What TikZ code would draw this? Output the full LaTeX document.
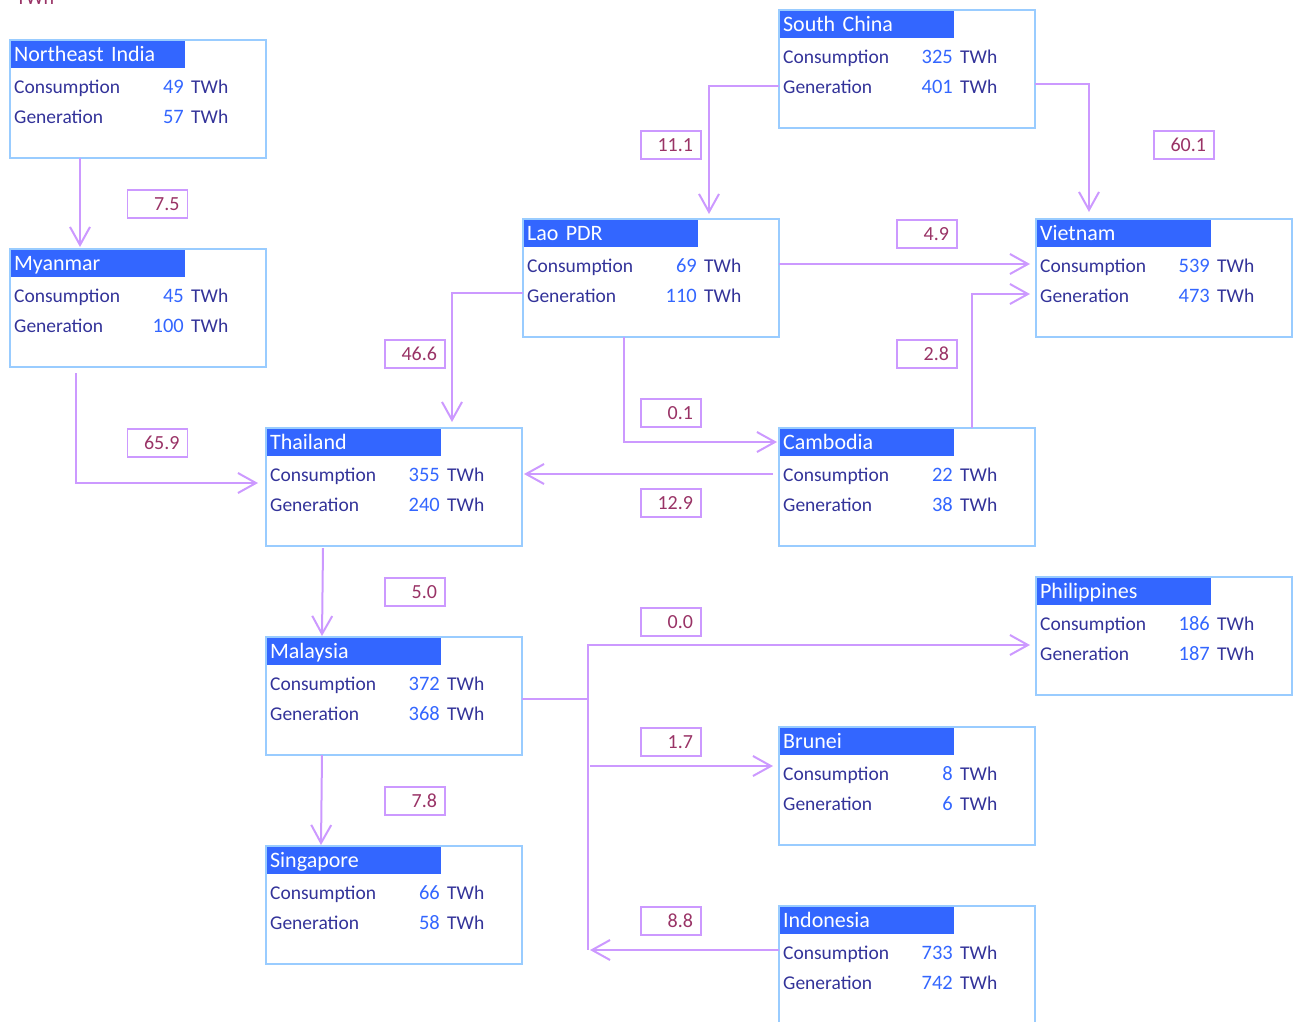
\documentclass[tikz,border=0pt]{standalone}
\usepackage{fontspec}
\setmainfont{Carlito}
\usetikzlibrary{arrows.meta, positioning}

\definecolor{regionline}{HTML}{99CCFF}
\definecolor{headfill}{HTML}{3366FF}
\definecolor{labeltext}{HTML}{333399}
\definecolor{valuetext}{HTML}{3366FF}
\definecolor{flowline}{HTML}{CC99FF}
\definecolor{flowtext}{HTML}{993366}

\begin{document}
\begin{tikzpicture}[
    x=1pt, y=-1pt,
    region/.style={rectangle, draw=regionline, line width=1.8pt, minimum width=256pt, minimum height=118pt, inner sep=0pt, outer sep=0pt, anchor=north west},
    regionhead/.style={rectangle, fill=headfill, text=white, anchor=north west, text width=168pt, inner xsep=3pt, inner ysep=0pt, minimum height=27pt, text height=17pt, text depth=3pt, align=left, font=\fontsize{22}{25}\selectfont},
    rowlabel/.style={anchor=base west, inner sep=0pt, text=labeltext, font=\fontsize{19.5}{22}\selectfont},
    rowvalue/.style={anchor=base east, inner sep=0pt, text=valuetext, font=\fontsize{20.5}{23}\selectfont},
    flowbox/.style={rectangle, draw=flowline, line width=1.8pt, text=flowtext, text width=44pt, align=right, inner xsep=8pt, inner ysep=0pt, minimum height=28pt, font=\fontsize{20}{23}\selectfont},
    link/.style={draw=flowline, line width=2pt},
    flow/.style={link, -{Straight Barb[length=18pt, width=20pt]}}
]
\useasboundingbox (0,0) rectangle (1298,1021);

% Unit (cut off at the top)
\node[anchor=base west, inner sep=0pt, text=flowtext, font=\fontsize{20}{23}\selectfont] (unit) at (16,4) {TWh};

% Regions
\foreach \id/\px/\py/\title/\cons/\gen in {
    neindia/10/40/Northeast India/49/57,
    myanmar/10/249/Myanmar/45/100,
    schina/779/10/South China/325/401,
    laos/523/219/Lao PDR/69/110,
    vietnam/1036/219/Vietnam/539/473,
    thailand/266/428/Thailand/355/240,
    cambodia/779/428/Cambodia/22/38,
    philippines/1036/577/Philippines/186/187,
    malaysia/266/637/Malaysia/372/368,
    brunei/779/727/Brunei/8/6,
    singapore/266/846/Singapore/66/58,
    indonesia/779/906/Indonesia/733/742}
{
    \node[region] (\id) at (\px,\py) {};
    \node[regionhead] (\id-head) at ([shift={(0.9pt,-0.9pt)}]\id.north west) {\title};
    \node[rowlabel] (\id-c) at ([shift={(4pt,-53pt)}]\id.north west) {Consumption};
    \node[rowvalue] (\id-cv) at ([shift={(174pt,-53pt)}]\id.north west) {\cons};
    \node[rowlabel] at ([shift={(181pt,-53pt)}]\id.north west) {TWh};
    \node[rowlabel] (\id-g) at ([shift={(4pt,-83pt)}]\id.north west) {Generation};
    \node[rowvalue] (\id-gv) at ([shift={(174pt,-83pt)}]\id.north west) {\gen};
    \node[rowlabel] at ([shift={(181pt,-83pt)}]\id.north west) {TWh};
}

% Flow values
\node[flowbox] (nei-mya) at (157.5,204) {7.5};
\node[flowbox] (sch-lao) at (671,145) {11.1};
\node[flowbox] (sch-vie) at (1184,145) {60.1};
\node[flowbox] (lao-vie) at (927,234) {4.9};
\node[flowbox] (lao-tha) at (415,354) {46.6};
\node[flowbox] (cam-vie) at (927,354) {2.8};
\node[flowbox] (lao-cam) at (671,413) {0.1};
\node[flowbox] (mya-tha) at (157.5,443) {65.9};
\node[flowbox] (cam-tha) at (671,503) {12.9};
\node[flowbox] (tha-mal) at (415,592) {5.0};
\node[flowbox] (mal-phi) at (671,622) {0.0};
\node[flowbox] (mal-bru) at (671,742) {1.7};
\node[flowbox] (mal-sin) at (415,801) {7.8};
\node[flowbox] (ido-mal) at (671,921) {8.8};

% Connectors
\draw[flow] ([xshift=70pt]neindia.south west) -- ([xshift=70pt, yshift=2pt]myanmar.north west);
\draw[flow] ([xshift=66pt, yshift=-6pt]myanmar.south west) |- ([xshift=-8pt, yshift=4pt]thailand.west);
\draw[flow] ([yshift=-76pt]schina.north west) -| ([xshift=186pt, yshift=5pt]laos.north west);
\draw[flow] ([yshift=-74pt]schina.north east) -| ([xshift=53pt, yshift=7pt]vietnam.north west);
\draw[flow] ([yshift=-45pt]laos.north east) -- ([xshift=-6pt, yshift=-45pt]vietnam.north west);
\draw[flow] ([yshift=-74pt]laos.north west) -| ([xshift=186pt, yshift=6pt]thailand.north west);
\draw[flow] ([xshift=101pt]laos.south west) |- ([xshift=-2pt, yshift=-14pt]cambodia.north west);
\draw[flow] ([xshift=193pt]cambodia.north west) |- ([xshift=-6pt, yshift=-75pt]vietnam.north west);
\draw[flow] ([xshift=-6pt, yshift=-46pt]cambodia.north west) -- ([xshift=2pt, yshift=-46pt]thailand.north east);
\draw[flow] ([xshift=57pt, yshift=-2pt]thailand.south west) -- ([xshift=56pt, yshift=1pt]malaysia.north west);
\draw[flow] ([xshift=56pt]malaysia.south west) -- ([xshift=55pt, yshift=1pt]singapore.north west);

% Malaysia bus
\coordinate (bus) at ([xshift=66pt, yshift=-62pt]malaysia.north east);
\coordinate (brunei-in) at ([xshift=-6pt, yshift=-39pt]brunei.north west);
\coordinate (indonesia-out) at ([yshift=-44pt]indonesia.north west);
\coordinate (bus-south) at (bus |- indonesia-out);
\draw[link] ([yshift=-62pt]malaysia.north east) -- (bus);
\draw[flow] (bus) |- ([xshift=-6pt, yshift=-68pt]philippines.north west);
\draw[flow] ([xshift=2pt]bus |- brunei-in) -- (brunei-in);
\draw[link] (bus) -- (bus-south);
\draw[flow] (indonesia-out) -- ([xshift=2pt]bus-south);

\end{tikzpicture}
\end{document}
